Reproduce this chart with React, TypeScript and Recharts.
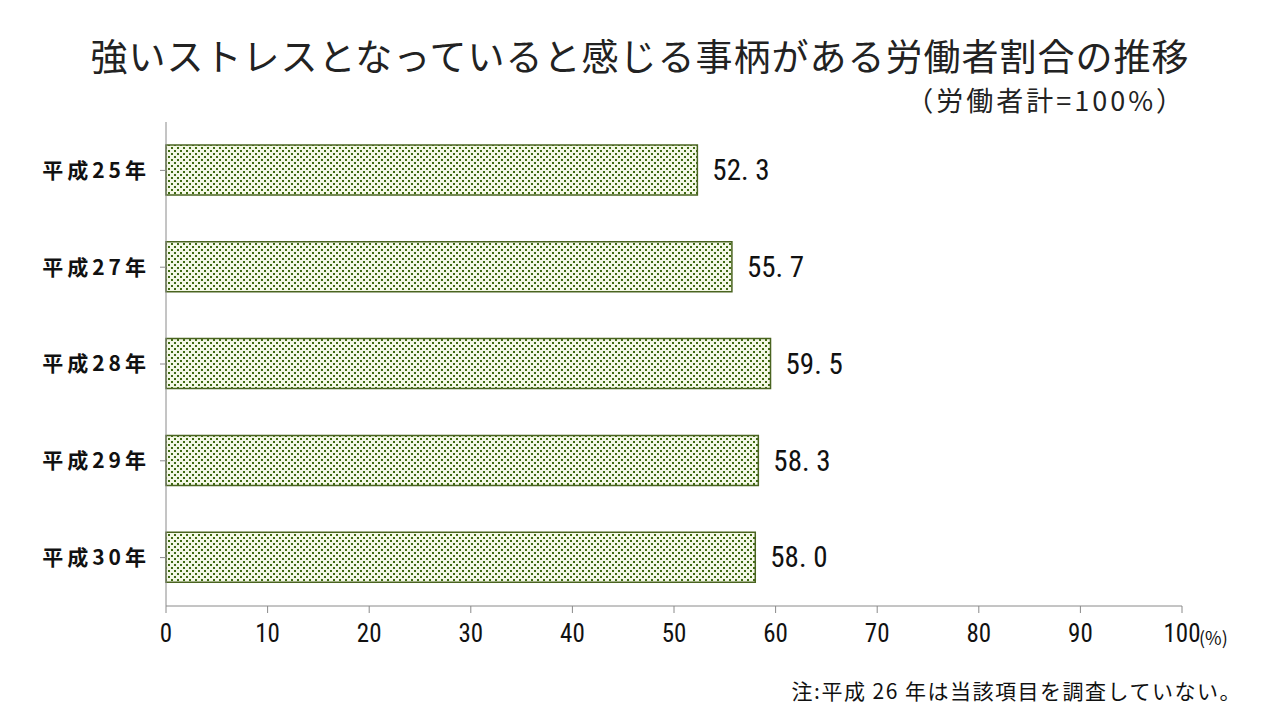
import { BarChart, Bar, XAxis, YAxis, LabelList } from 'recharts'

const YEARS = ['平成25年', '平成27年', '平成28年', '平成29年', '平成30年']
const RATES = [52.3, 55.7, 59.5, 58.3, 58.0]
const X_TICKS = [0, 10, 20, 30, 40, 50, 60, 70, 80, 90, 100]

const JP = '"Noto Sans CJK JP", "Noto Sans", sans-serif'
const NARROW = '"Liberation Sans Narrow", "Roboto Condensed", "Noto Sans CJK JP", sans-serif'

const data = YEARS.map((year, i) => ({ year, rate: RATES[i] }))

export default function App() {
  return (
    <div style={{ position: 'absolute', left: 0, top: 0, width: 1280, height: 720, background: '#fff', fontFamily: JP }}>
      <div style={{ position: 'absolute', left: 0, width: 1280, top: 32, textAlign: 'center', fontSize: 37, color: '#222', lineHeight: '46px', letterSpacing: 1 }}>
        強いストレスとなっていると感じる事柄がある労働者割合の推移
      </div>
      <div style={{ position: 'absolute', right: 94, top: 83, fontSize: 27, color: '#222', lineHeight: '34px', letterSpacing: 3 }}>
        （労働者計=100%）
      </div>
      <BarChart
        width={1280}
        height={720}
        data={data}
        layout="vertical"
        margin={{ top: 122, right: 98, bottom: 74, left: 46 }}
        barSize={50}
      >
        <defs>
          <pattern id="dots" width="6" height="6" patternUnits="userSpaceOnUse">
            <rect width="6" height="6" fill="#f4f8e6" />
            <rect x="0" y="0" width="2" height="2" fill="#3f6a12" />
            <rect x="3" y="3" width="2" height="2" fill="#3f6a12" />
          </pattern>
        </defs>
        <XAxis
          type="number"
          domain={[0, 100]}
          ticks={X_TICKS}
          height={40}
          interval={0}
          stroke="#8a8a8a"
          tickLine={{ stroke: '#8a8a8a' }}
          tickSize={7}
          tick={{ fontSize: 25, fill: '#111', fontFamily: NARROW, dy: 9 }}
        />
        <YAxis
          type="category"
          dataKey="year"
          width={120}
          stroke="#8a8a8a"
          tickLine={{ stroke: '#8a8a8a' }}
          tickSize={6}
          tick={{ fontSize: 21, fill: '#111', fontFamily: JP, fontWeight: 600, letterSpacing: 4, dx: -8 }}
        />
        <Bar dataKey="rate" fill="url(#dots)" stroke="#4a6420" strokeWidth={1.5} isAnimationActive={false}>
          <LabelList
            dataKey="rate"
            position="right"
            offset={15}
            formatter={(v: number) => v.toFixed(1).replace('.', '. ')}
            style={{ fontSize: 29, fill: '#111', fontFamily: NARROW }}
          />
        </Bar>
      </BarChart>
      <div style={{ position: 'absolute', left: 1199, top: 624, fontSize: 18, color: '#111' }}>(%)</div>
      <div style={{ position: 'absolute', right: 38, top: 675, fontSize: 21, color: '#111', letterSpacing: 1.5 }}>
        注:平成 26 年は当該項目を調査していない。
      </div>
    </div>
  )
}
